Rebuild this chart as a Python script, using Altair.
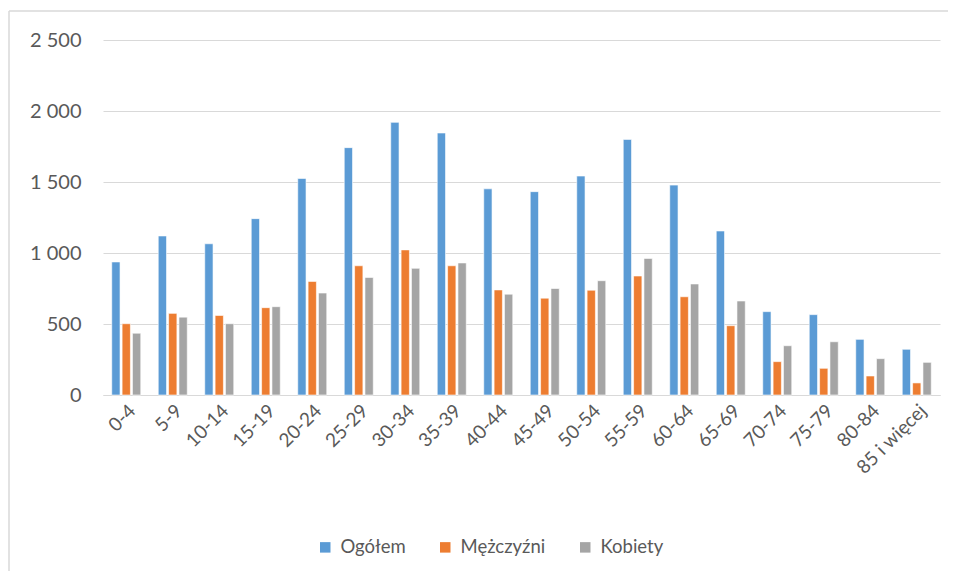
import altair as alt
import pandas as pd

groups = ["0-4", "5-9", "10-14", "15-19", "20-24", "25-29", "30-34", "35-39",
          "40-44", "45-49", "50-54", "55-59", "60-64", "65-69", "70-74",
          "75-79", "80-84", "85 i więcej"]
ogolem = [937, 1120, 1065, 1242, 1525, 1742, 1920, 1845, 1452, 1432, 1542,
          1800, 1478, 1155, 587, 566, 392, 322]
mezczyzni = [502, 575, 560, 615, 800, 910, 1022, 910, 740, 682, 738,
             838, 692, 488, 235, 188, 134, 85]
kobiety = [435, 548, 502, 622, 718, 828, 892, 930, 710, 750, 805,
           962, 782, 662, 347, 375, 256, 230]
series = ["Ogółem", "Mężczyźni", "Kobiety"]
colors = ["#5B9BD5", "#ED7D31", "#A5A5A5"]

rows = []
for i, g in enumerate(groups):
    for s, vals in zip(series, [ogolem, mezczyzni, kobiety]):
        rows.append({"grupa": g, "seria": s, "wartosc": vals[i]})
df = pd.DataFrame(rows)

FONT = "Lato"
TXT = "#595959"

bars = alt.Chart(df).mark_bar(stroke="white", strokeWidth=0.6).encode(
    x=alt.X("grupa:N", sort=groups, title=None,
            scale=alt.Scale(paddingInner=0.376, paddingOuter=0.188),
            axis=alt.Axis(labelAngle=-45, labelFontSize=19, labelColor=TXT,
                          labelFont=FONT, domainColor="#d9d9d9", ticks=False,
                          labelPadding=6, labelOverlap=False)),
    xOffset=alt.XOffset("seria:N", sort=series,
                        scale=alt.Scale(paddingInner=0.2, paddingOuter=0)),
    y=alt.Y("wartosc:Q", title=None,
            scale=alt.Scale(domain=[0, 2500], nice=False),
            axis=alt.Axis(values=[0, 500, 1000, 1500, 2000, 2500],
                          labelExpr="replace(format(datum.value, ',d'), ',', ' ')",
                          labelFontSize=20, labelColor=TXT, labelFont=FONT,
                          domain=False, ticks=False, labelPadding=22,
                          gridColor="#d9d9d9", gridWidth=1.2)),
    color=alt.Color("seria:N", sort=series,
                    scale=alt.Scale(domain=series, range=colors),
                    legend=alt.Legend(title=None, orient="none", direction="horizontal",
                                      legendX=213, legendY=498,
                                      symbolType="square", symbolSize=110,
                                      symbolStrokeWidth=0,
                                      labelFontSize=18.5, labelColor=TXT, labelFont=FONT,
                                      columnPadding=30, labelOffset=6)),
)

frame_data = pd.DataFrame({"k": [0]})
top_edge = alt.Chart(frame_data).mark_rule(stroke="#d9d9d9", strokeWidth=1.5).encode(
    x=alt.value(-94), x2=alt.value(845), y=alt.value(-29)
)
left_edge = alt.Chart(frame_data).mark_rule(stroke="#d9d9d9", strokeWidth=1.5).encode(
    x=alt.value(-94), y=alt.value(-29), y2=alt.value(700)
)

chart = alt.layer(top_edge, left_edge, bars).properties(
    width=837, height=355,
    autosize=alt.AutoSizeParams(type="none"),
    padding={"left": 95, "top": 32, "right": 8, "bottom": 176},
).configure(
    background="white",
    view=alt.ViewConfig(stroke="transparent", strokeWidth=0),
)

chart.save("out.html", embed_options={"renderer": "svg", "actions": False})
